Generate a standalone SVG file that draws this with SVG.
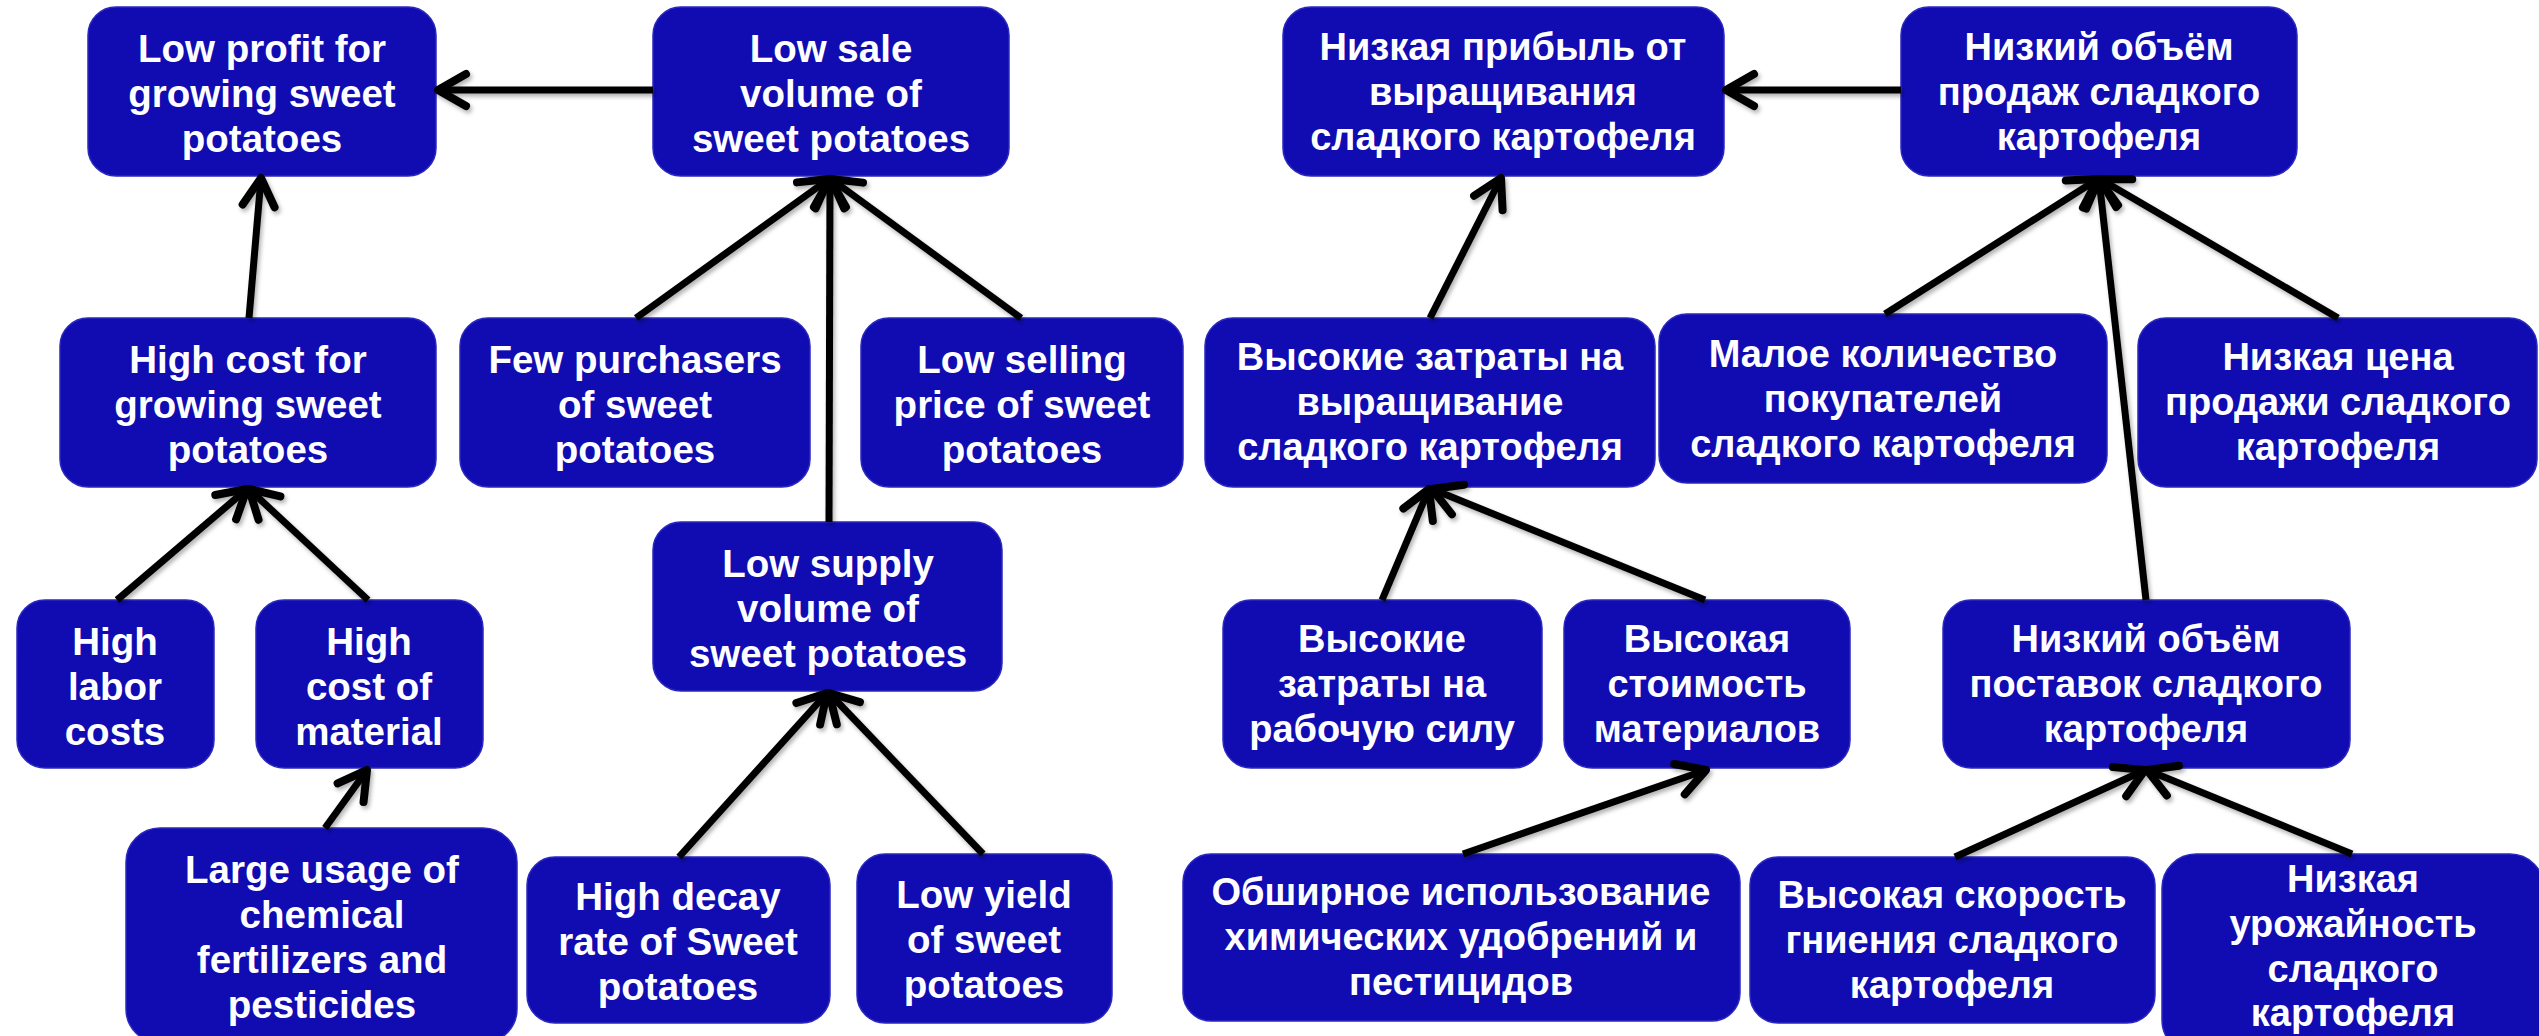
<svg xmlns="http://www.w3.org/2000/svg" width="2539" height="1036" viewBox="0 0 2539 1036">
<style>
.box{fill:#100CB2;stroke:#2b28bf;stroke-width:1.5}
.en{font-family:"Liberation Sans",Arial,sans-serif;font-weight:700;font-size:38.5px;fill:#fff;text-anchor:middle}
.ru{font-family:"Liberation Sans",Arial,sans-serif;font-weight:700;font-size:38px;fill:#fff;text-anchor:middle}
.con path{fill:none;stroke:#000;stroke-width:7;marker-end:url(#ah)}
</style>
<defs>
<filter id="sh" x="-20%" y="-20%" width="140%" height="140%">
<feDropShadow dx="2" dy="3" stdDeviation="2" flood-color="#000" flood-opacity="0.3"/>
</filter>
<marker id="ah" viewBox="-40 -30 50 60" refX="0" refY="0" markerWidth="50" markerHeight="60" markerUnits="userSpaceOnUse" orient="auto">
<path d="M-28,-16 L0,0 L-28,16" fill="none" stroke="#000" stroke-width="8" stroke-linecap="round" stroke-linejoin="round"/>
</marker>
</defs>
<rect width="2539" height="1036" fill="#fff"/>

<g id="low-profit"><rect class="box" x="88" y="7" width="348" height="169" rx="28"/>
<text class="en"><tspan x="262" y="62">Low profit for</tspan><tspan x="262" y="107">growing sweet</tspan><tspan x="262" y="152">potatoes</tspan></text></g>
<g id="low-sale"><rect class="box" x="653" y="7" width="356" height="169" rx="28"/>
<text class="en"><tspan x="831" y="62">Low sale</tspan><tspan x="831" y="107">volume of</tspan><tspan x="831" y="152">sweet potatoes</tspan></text></g>
<g id="high-cost"><rect class="box" x="60" y="318" width="376" height="169" rx="28"/>
<text class="en"><tspan x="248" y="373">High cost for</tspan><tspan x="248" y="418">growing sweet</tspan><tspan x="248" y="463">potatoes</tspan></text></g>
<g id="few-purchasers"><rect class="box" x="460" y="318" width="350" height="169" rx="28"/>
<text class="en"><tspan x="635" y="373">Few purchasers</tspan><tspan x="635" y="418">of sweet</tspan><tspan x="635" y="463">potatoes</tspan></text></g>
<g id="low-selling-price"><rect class="box" x="861" y="318" width="322" height="169" rx="28"/>
<text class="en"><tspan x="1022" y="373">Low selling</tspan><tspan x="1022" y="418">price of sweet</tspan><tspan x="1022" y="463">potatoes</tspan></text></g>
<g id="low-supply"><rect class="box" x="653" y="522" width="349" height="169" rx="28"/>
<text class="en"><tspan x="828" y="577">Low supply</tspan><tspan x="828" y="622">volume of</tspan><tspan x="828" y="667">sweet potatoes</tspan></text></g>
<g id="high-labor"><rect class="box" x="17" y="600" width="197" height="168" rx="28"/>
<text class="en"><tspan x="115" y="655">High</tspan><tspan x="115" y="700">labor</tspan><tspan x="115" y="745">costs</tspan></text></g>
<g id="high-material"><rect class="box" x="256" y="600" width="227" height="168" rx="28"/>
<text class="en"><tspan x="369" y="655">High</tspan><tspan x="369" y="700">cost of</tspan><tspan x="369" y="745">material</tspan></text></g>
<g id="large-usage"><rect class="box" x="126" y="828" width="391" height="215" rx="34"/>
<text class="en"><tspan x="322" y="883">Large usage of</tspan><tspan x="322" y="928">chemical</tspan><tspan x="322" y="973">fertilizers and</tspan><tspan x="322" y="1018">pesticides</tspan></text></g>
<g id="high-decay"><rect class="box" x="527" y="857" width="303" height="166" rx="28"/>
<text class="en"><tspan x="678" y="910">High decay</tspan><tspan x="678" y="955">rate of Sweet</tspan><tspan x="678" y="1000">potatoes</tspan></text></g>
<g id="low-yield"><rect class="box" x="857" y="854" width="255" height="169" rx="28"/>
<text class="en"><tspan x="984" y="908">Low yield</tspan><tspan x="984" y="953">of sweet</tspan><tspan x="984" y="998">potatoes</tspan></text></g>

<g id="ru-low-profit"><rect class="box" x="1283" y="7" width="441" height="169" rx="28"/>
<text class="ru"><tspan x="1503" y="60">Низкая прибыль от</tspan><tspan x="1503" y="105">выращивания</tspan><tspan x="1503" y="150">сладкого картофеля</tspan></text></g>
<g id="ru-low-sale"><rect class="box" x="1901" y="7" width="396" height="169" rx="28"/>
<text class="ru"><tspan x="2099" y="60">Низкий объём</tspan><tspan x="2099" y="105">продаж сладкого</tspan><tspan x="2099" y="150">картофеля</tspan></text></g>
<g id="ru-high-cost"><rect class="box" x="1205" y="318" width="450" height="169" rx="28"/>
<text class="ru"><tspan x="1430" y="370">Высокие затраты на</tspan><tspan x="1430" y="415">выращивание</tspan><tspan x="1430" y="460">сладкого картофеля</tspan></text></g>
<g id="ru-few-purchasers"><rect class="box" x="1659" y="314" width="448" height="169" rx="28"/>
<text class="ru"><tspan x="1883" y="367">Малое количество</tspan><tspan x="1883" y="412">покупателей</tspan><tspan x="1883" y="457">сладкого картофеля</tspan></text></g>
<g id="ru-low-price"><rect class="box" x="2138" y="318" width="399" height="169" rx="28"/>
<text class="ru"><tspan x="2338" y="370">Низкая цена</tspan><tspan x="2338" y="415">продажи сладкого</tspan><tspan x="2338" y="460">картофеля</tspan></text></g>
<g id="ru-high-labor"><rect class="box" x="1223" y="600" width="319" height="168" rx="28"/>
<text class="ru"><tspan x="1382" y="652">Высокие</tspan><tspan x="1382" y="697">затраты на</tspan><tspan x="1382" y="742">рабочую силу</tspan></text></g>
<g id="ru-high-material"><rect class="box" x="1564" y="600" width="286" height="168" rx="28"/>
<text class="ru"><tspan x="1707" y="652">Высокая</tspan><tspan x="1707" y="697">стоимость</tspan><tspan x="1707" y="742">материалов</tspan></text></g>
<g id="ru-low-supply"><rect class="box" x="1943" y="600" width="407" height="168" rx="28"/>
<text class="ru"><tspan x="2146" y="652">Низкий объём</tspan><tspan x="2146" y="697">поставок сладкого</tspan><tspan x="2146" y="742">картофеля</tspan></text></g>
<g id="ru-large-usage"><rect class="box" x="1183" y="854" width="557" height="167" rx="28"/>
<text class="ru"><tspan x="1461" y="905">Обширное использование</tspan><tspan x="1461" y="950">химических удобрений и</tspan><tspan x="1461" y="995">пестицидов</tspan></text></g>
<g id="ru-high-decay"><rect class="box" x="1750" y="857" width="405" height="166" rx="28"/>
<text class="ru"><tspan x="1952" y="908">Высокая скорость</tspan><tspan x="1952" y="953">гниения сладкого</tspan><tspan x="1952" y="998">картофеля</tspan></text></g>
<g id="ru-low-yield"><rect class="box" x="2162" y="854" width="382" height="200" rx="34"/>
<text class="ru"><tspan x="2353" y="892">Низкая</tspan><tspan x="2353" y="937">урожайность</tspan><tspan x="2353" y="982">сладкого</tspan><tspan x="2353" y="1026">картофеля</tspan></text></g>

<g id="connectors" class="con" filter="url(#sh)">
<path d="M653,90 L438,90"/>
<path d="M249,318 L261,178"/>
<path d="M636,318 L829,179"/>
<path d="M829,522 L830,179"/>
<path d="M1021,318 L831,179"/>
<path d="M117,600 L247,489"/>
<path d="M368,600 L249,489"/>
<path d="M325,828 L367,770"/>
<path d="M679,857 L827,693"/>
<path d="M983,854 L829,693"/>
<path d="M1901,90 L1726,90"/>
<path d="M1430,318 L1501,178"/>
<path d="M1885,314 L2098,179"/>
<path d="M2338,318 L2100,179"/>
<path d="M2146,600 L2099,179"/>
<path d="M1382,600 L1429,489"/>
<path d="M1705,600 L1432,489"/>
<path d="M1463,854 L1706,770"/>
<path d="M1955,857 L2145,770"/>
<path d="M2352,854 L2147,770"/>
</g>
</svg>
